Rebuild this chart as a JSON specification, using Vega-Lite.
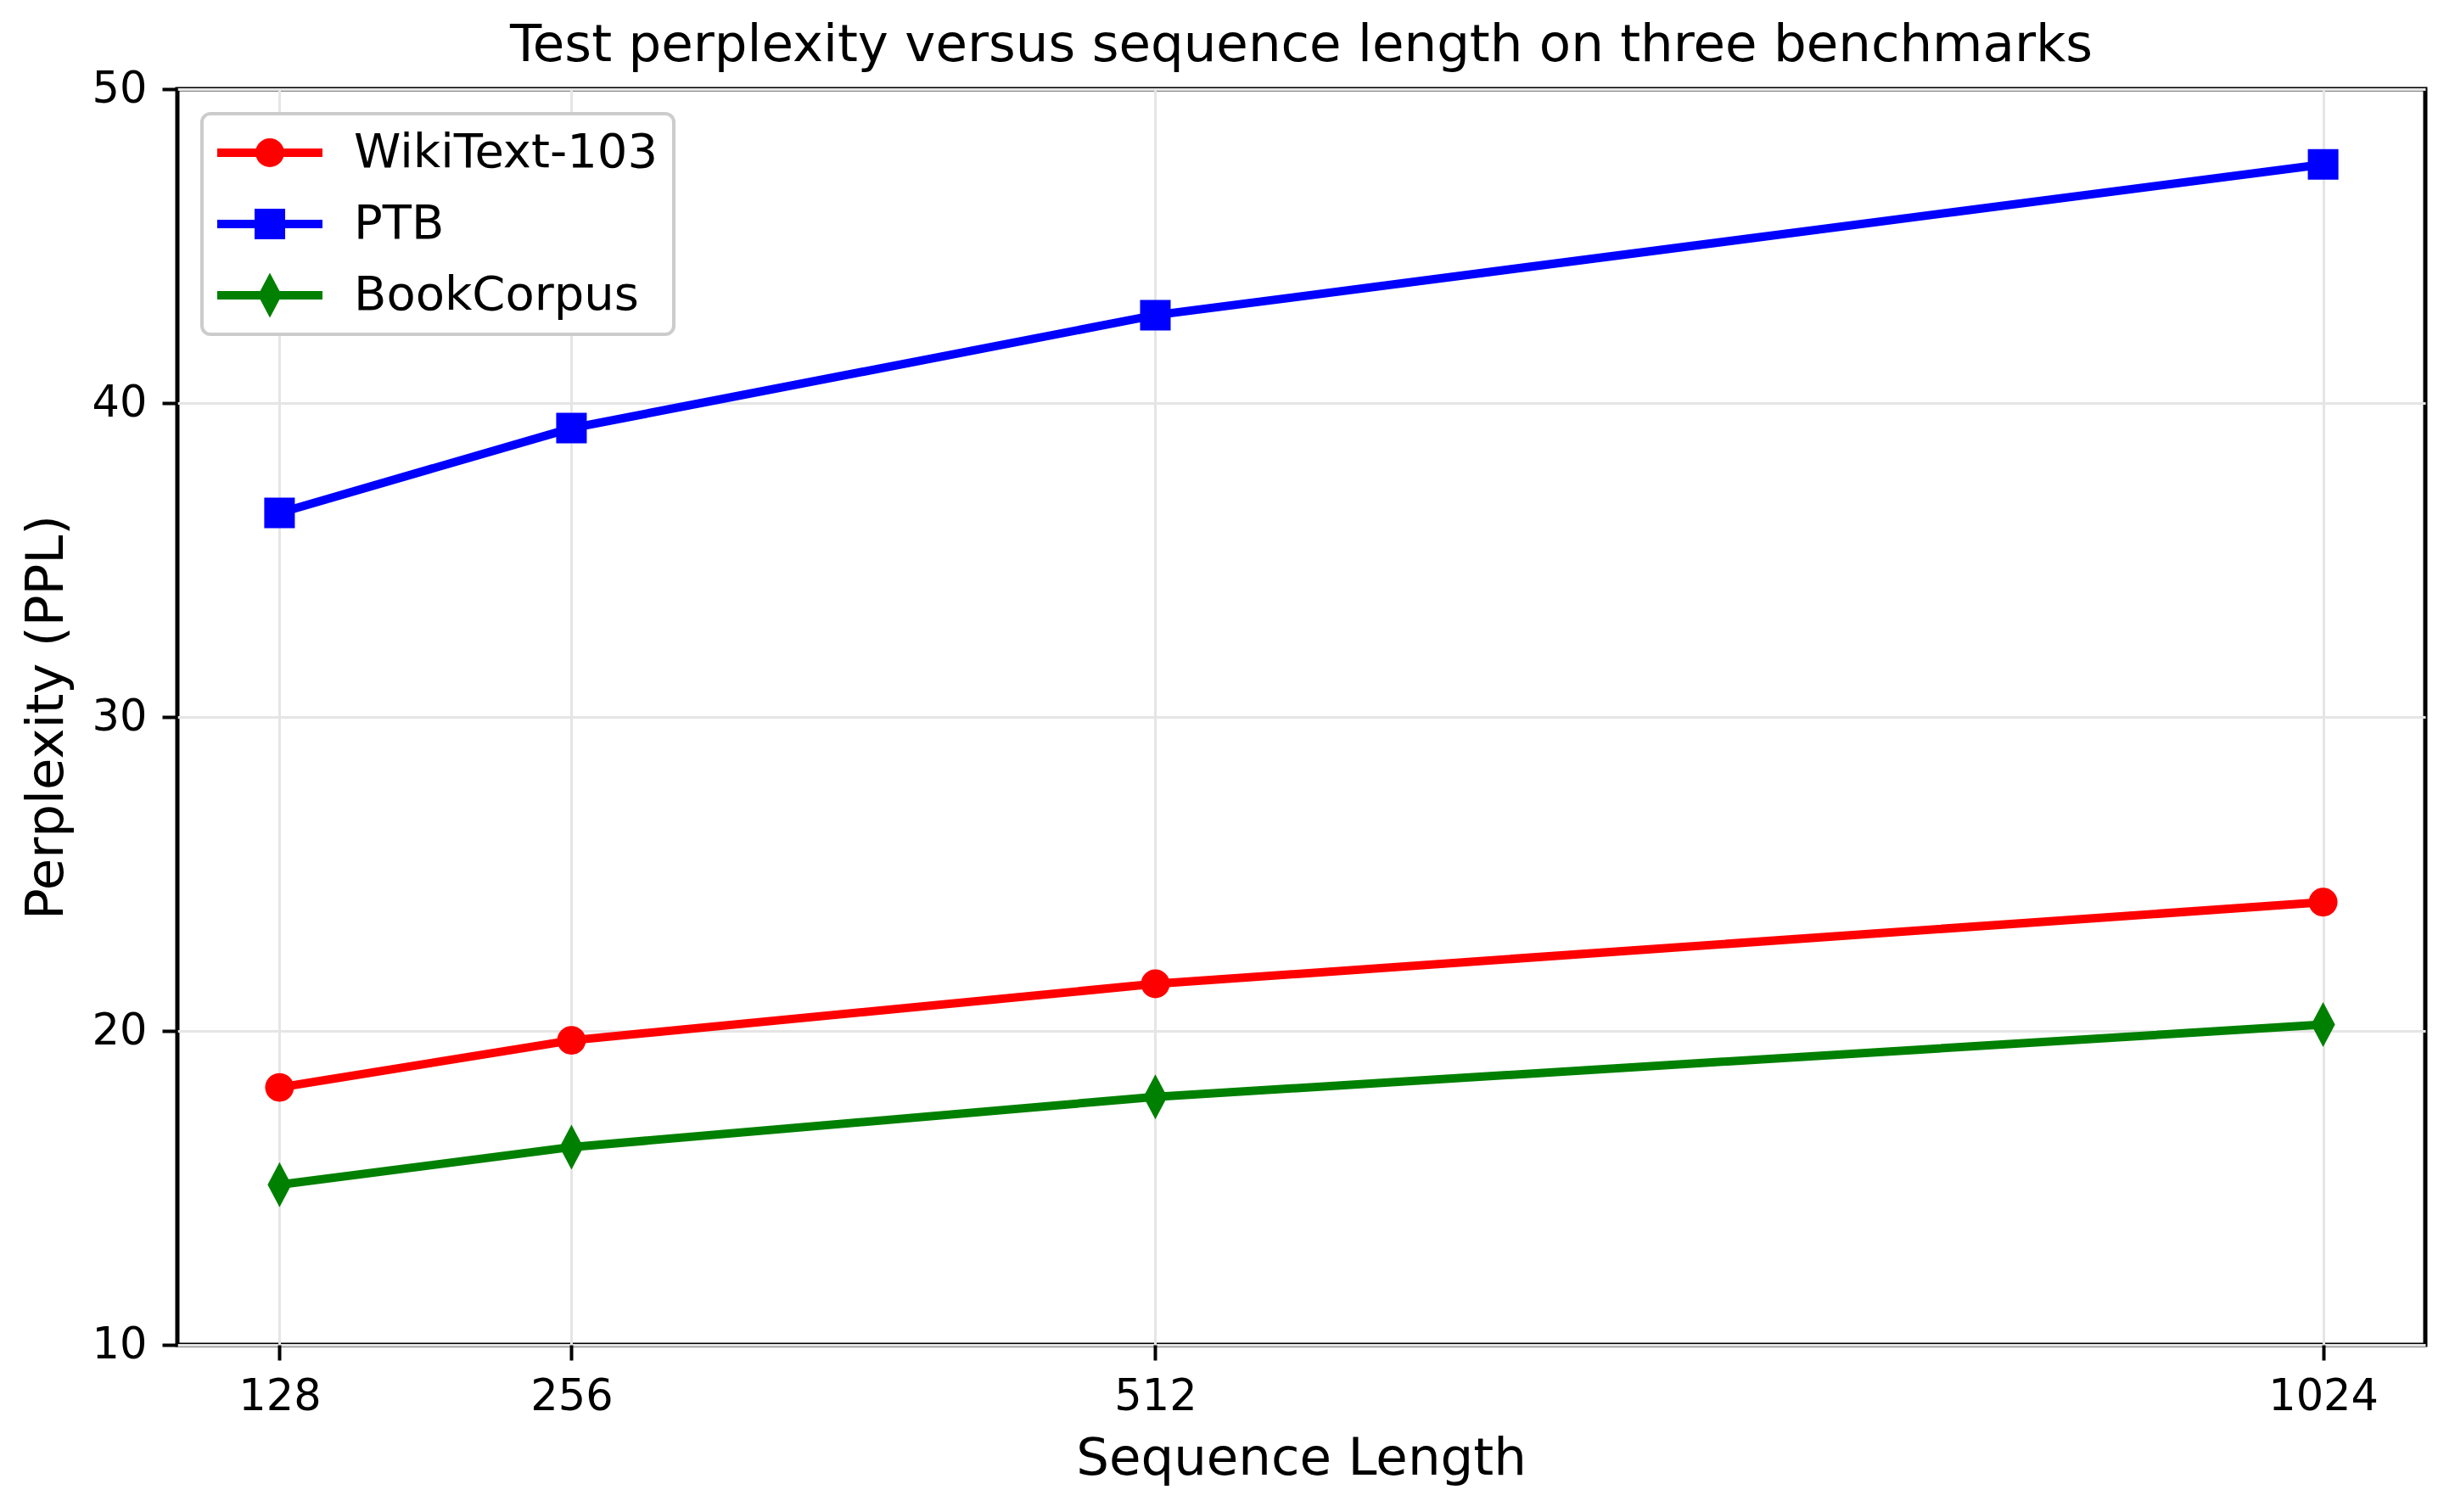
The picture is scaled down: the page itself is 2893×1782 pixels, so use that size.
{
  "$schema": "https://vega.github.io/schema/vega-lite/v6.json",
  "autosize": {"type": "none"},
  "width": 2649,
  "height": 1480,
  "padding": {"left": 209, "top": 105, "right": 35, "bottom": 197},
  "background": "white",
  "title": {
    "text": "Test perplexity versus sequence length on three benchmarks",
    "anchor": "middle",
    "frame": "group",
    "font": "DejaVu Sans",
    "fontSize": 61,
    "fontWeight": "normal",
    "color": "black",
    "offset": -6
  },
  "config": {
    "view": {"stroke": "black", "strokeWidth": 5},
    "font": "DejaVu Sans",
    "axis": {
      "labelFont": "DejaVu Sans",
      "labelColor": "black",
      "titleFont": "DejaVu Sans",
      "titleColor": "black",
      "titleFontWeight": "normal",
      "domain": false,
      "tickColor": "black",
      "tickWidth": 4,
      "tickSize": 18,
      "labelPadding": 18,
      "gridColor": "#e5e5e5",
      "gridWidth": 3
    },
    "legend": {
      "orient": "none",
      "legendX": 29,
      "legendY": 29,
      "padding": 18,
      "fillColor": "white",
      "strokeColor": "#cccccc",
      "strokeWidth": 4,
      "cornerRadius": 10,
      "labelFont": "DejaVu Sans",
      "labelFontSize": 56,
      "labelColor": "black",
      "labelLimit": 0,
      "labelOffset": 71,
      "symbolSize": 2809,
      "symbolOffset": 34,
      "symbolOpacity": 1,
      "symbolStrokeWidth": 0,
      "rowPadding": 28,
      "title": null
    }
  },
  "data": {
    "values": [
      {"series": "WikiText-103", "len": 128, "ppl": 18.2},
      {"series": "WikiText-103", "len": 256, "ppl": 19.7},
      {"series": "WikiText-103", "len": 512, "ppl": 21.5},
      {"series": "WikiText-103", "len": 1024, "ppl": 24.1},
      {"series": "PTB", "len": 128, "ppl": 36.5},
      {"series": "PTB", "len": 256, "ppl": 39.2},
      {"series": "PTB", "len": 512, "ppl": 42.8},
      {"series": "PTB", "len": 1024, "ppl": 47.6},
      {"series": "BookCorpus", "len": 128, "ppl": 15.1},
      {"series": "BookCorpus", "len": 256, "ppl": 16.3},
      {"series": "BookCorpus", "len": 512, "ppl": 17.9},
      {"series": "BookCorpus", "len": 1024, "ppl": 20.2}
    ]
  },
  "encoding": {
    "x": {
      "field": "len",
      "type": "quantitative",
      "scale": {"domain": [83.2, 1068.8], "nice": false, "zero": false},
      "axis": {
        "values": [128, 256, 512, 1024],
        "format": "d",
        "title": "Sequence Length",
        "titleFontSize": 61,
        "labelFontSize": 51,
        "titleX": 1324,
        "titleY": 134,
        "titleBaseline": "middle",
        "labelFlush": false
      }
    },
    "y": {
      "field": "ppl",
      "type": "quantitative",
      "scale": {"domain": [10, 50], "nice": false, "zero": false},
      "axis": {
        "values": [10, 20, 30, 40, 50],
        "title": "Perplexity (PPL)",
        "titleFontSize": 61,
        "labelFontSize": 51,
        "titleX": -154,
        "titleY": 740,
        "titleAngle": -90,
        "titleBaseline": "middle",
        "titleAlign": "center",
        "labelFlush": false
      }
    }
  },
  "layer": [
    {
      "mark": {"type": "line", "strokeWidth": 10, "strokeCap": "butt"},
      "encoding": {
        "color": {
          "field": "series",
          "type": "nominal",
          "scale": {"domain": ["WikiText-103", "PTB", "BookCorpus"], "range": ["#ff0000", "#0000ff", "#008000"]},
          "legend": null
        }
      }
    },
    {
      "mark": {"type": "point", "filled": true, "opacity": 1, "size": 2809, "strokeWidth": 0},
      "encoding": {
        "color": {
          "field": "series",
          "type": "nominal",
          "scale": {"domain": ["WikiText-103", "PTB", "BookCorpus"], "range": ["#ff0000", "#0000ff", "#008000"]},
          "legend": null
        },
        "shape": {
          "field": "series",
          "type": "nominal",
          "scale": {
            "domain": ["WikiText-103", "PTB", "BookCorpus"],
            "range": [
              "M0.64,0A0.64,0.64 0 1,1 -0.64,0A0.64,0.64 0 1,1 0.64,0Z",
              "M-0.68,-0.68H0.68V0.68H-0.68Z",
              "M0,-1L0.53,0L0,1L-0.53,0Z"
            ]
          },
          "legend": null
        }
      }
    },
    {
      "mark": {"type": "point", "filled": true, "opacity": 0, "size": 2809, "strokeWidth": 0},
      "encoding": {
        "color": {
          "field": "series",
          "type": "nominal",
          "scale": {"domain": ["WikiText-103", "PTB", "BookCorpus"], "range": ["#ff0000", "#0000ff", "#008000"]},
          "legend": {"title": null}
        },
        "shape": {
          "field": "series",
          "type": "nominal",
          "scale": {
            "domain": ["WikiText-103", "PTB", "BookCorpus"],
            "range": [
              "M-2.34,-0.19H2.34V0.19H-2.34ZM0.64,0A0.64,0.64 0 1,1 -0.64,0A0.64,0.64 0 1,1 0.64,0Z",
              "M-2.34,-0.19H2.34V0.19H-2.34ZM-0.68,-0.68H0.68V0.68H-0.68Z",
              "M-2.34,-0.19H2.34V0.19H-2.34ZM0,-1L0.53,0L0,1L-0.53,0Z"
            ]
          },
          "legend": {"title": null}
        }
      }
    }
  ],
  "resolve": {
    "scale": {"color": "independent", "shape": "independent"},
    "legend": {"color": "independent", "shape": "independent"}
  }
}
